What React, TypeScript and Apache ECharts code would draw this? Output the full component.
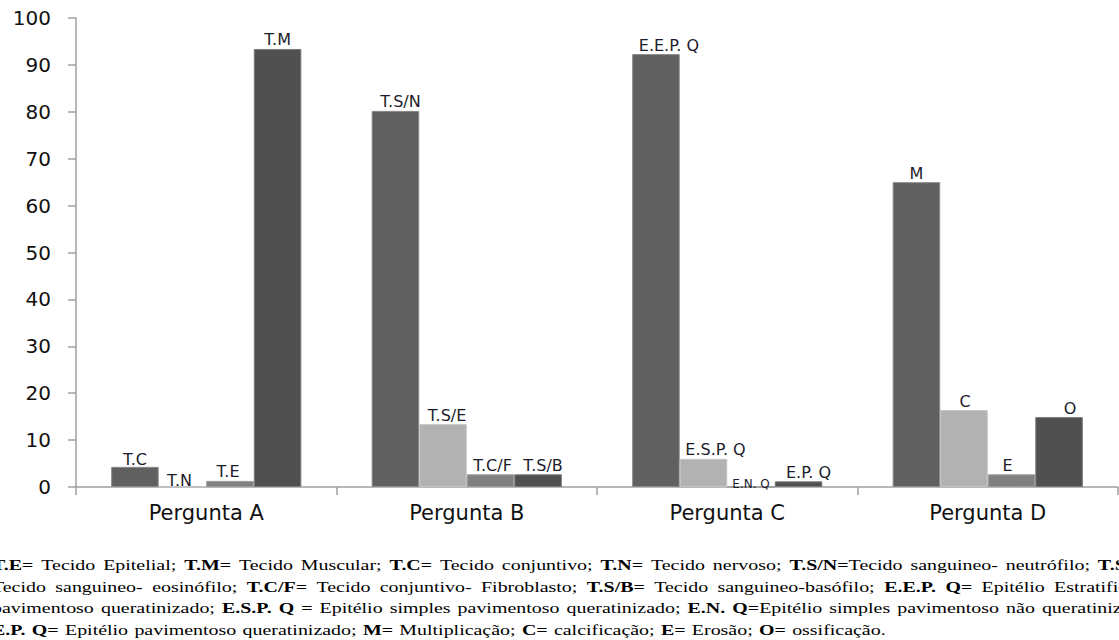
import React, { useEffect, useRef } from "react";
import * as echarts from "echarts";

const categories = ["Pergunta A", "Pergunta B", "Pergunta C", "Pergunta D"];
const yTicks = { min: 0, max: 100, interval: 10 };

const values1 = [4.3, 80.2, 92.3, 65.0];
const values2 = [0, 13.4, 6.0, 16.4];
const values3 = [1.3, 2.7, 0, 2.7];
const values4 = [93.4, 2.7, 1.2, 14.9];

const names1 = ["T.C", "T.S/N", "E.E.P. Q", "M"];
const names2 = ["T.N", "T.S/E", "E.S.P. Q", "C"];
const names3 = ["T.E", "T.C/F", "E.N. Q", "E"];
const names4 = ["T.M", "T.S/B", "E.P. Q", "O"];

// label nudges (style only)
const nudges1 = [[0, 2], [5, 0], [13, 0], [0, 0]];
const nudges2 = [[-3, 3], [4, 0], [12, 0], [1, 0]];
const nudges3 = [[-2, 0], [2, 0], [0, 4], [-4, 0]];
const nudges4 = [[0, 0], [5, 0], [10, 0], [11, 0]];

const footerLines = [
  "**T.E=** Tecido Epitelial; **T.M=** Tecido Muscular; **T.C=** Tecido conjuntivo; **T.N=** Tecido nervoso; **T.S/N=**Tecido sanguineo- neutrófilo; **T.S/E=**",
  "Tecido sanguineo- eosinófilo; **T.C/F=** Tecido conjuntivo- Fibroblasto; **T.S/B=** Tecido sanguineo-basófilo; **E.E.P. Q=** Epitélio Estratificado",
  "pavimentoso queratinizado; **E.S.P. Q =** Epitélio simples pavimentoso queratinizado; **E.N. Q=**Epitélio simples pavimentoso não queratinizado;",
  "**E.P. Q=** Epitélio pavimentoso queratinizado; **M=** Multiplicação; **C=** calcificação; **E=** Erosão; **O=** ossificação.",
];

const FOOT_FONT = "Liberation Serif";
const FOOT_SIZE = 15;
const FOOT_SCALE_X = 1.33;
const FOOT_LEFT = -8;
const FOOT_RIGHT = 1156;
const FOOT_Y = [565, 586.5, 608, 629.5];

type Seg = { t: string; b: boolean };

function parseLine(s: string): Seg[][] {
  const words: Seg[][] = [];
  let cur: Seg[] = [];
  const re = /\*\*(.+?)\*\*|[^*]+/g;
  let m: RegExpExecArray | null;
  while ((m = re.exec(s))) {
    const bold = m[1] !== undefined;
    const text = bold ? m[1] : m[0];
    const parts = text.split(" ");
    parts.forEach((p, i) => {
      if (i > 0 && cur.length) {
        words.push(cur);
        cur = [];
      }
      if (p) cur.push({ t: p, b: bold });
    });
  }
  if (cur.length) words.push(cur);
  return words;
}

function buildFooter(): any[] {
  const canvas = document.createElement("canvas");
  const ctx = canvas.getContext("2d")!;
  const meas = (t: string, b: boolean) => {
    ctx.font = `${b ? "bold " : ""}${FOOT_SIZE}px "${FOOT_FONT}"`;
    return ctx.measureText(t).width;
  };
  const localWidth = (FOOT_RIGHT - FOOT_LEFT) / FOOT_SCALE_X;
  const els: any[] = [];
  footerLines.forEach((line, li) => {
    const words = parseLine(line);
    const widths = words.map((w) => w.reduce((a, s) => a + meas(s.t, s.b), 0));
    const total = widths.reduce((a, b) => a + b, 0);
    const justify = li < footerLines.length - 1;
    const gap = justify
      ? (localWidth - total) / (words.length - 1)
      : meas(" ", false) * 1.25;
    let x = 0;
    words.forEach((w, wi) => {
      let sx = x;
      w.forEach((s) => {
        els.push({
          type: "text",
          x: sx,
          y: FOOT_Y[li],
          silent: true,
          style: {
            text: s.t,
            fontFamily: FOOT_FONT,
            fontSize: FOOT_SIZE,
            fontWeight: s.b ? "bold" : "normal",
            fill: "#000",
            align: "left",
            verticalAlign: "middle",
          },
        });
        sx += meas(s.t, s.b);
      });
      x += widths[wi] + gap;
    });
  });
  return [
    {
      type: "group",
      x: FOOT_LEFT,
      y: 0,
      scaleX: FOOT_SCALE_X,
      silent: true,
      children: els,
    },
  ];
}

function makeSeries(
  values: number[],
  names: string[],
  nudges: number[][],
  color: string,
  border: string
) {
  return {
    type: "bar",
    barGap: "0%",
    barCategoryGap: "27%",
    itemStyle: { color, borderColor: border, borderWidth: 1 },
    data: values.map((v, i) => ({
      value: v,
      label: {
        offset: nudges[i],
        fontSize: names[i] === "E.N. Q" ? 12 : 16,
      },
    })),
    label: {
      show: true,
      position: "top",
      distance: 1,
      fontFamily: "DejaVu Sans",
      fontSize: 16,
      color: "#1c1c2a",
      formatter: (p: any) => names[p.dataIndex],
    },
  };
}

export default function App() {
  const ref = useRef<HTMLDivElement>(null);
  useEffect(() => {
    if (!ref.current) return;
    const chart = echarts.init(ref.current, null, { renderer: "svg" });
    chart.setOption({
      animation: false,
      backgroundColor: "#ffffff",
      grid: { left: 76, right: 1, top: 18, bottom: 153, containLabel: false },
      xAxis: {
        type: "category",
        data: categories,
        axisLine: { show: true, lineStyle: { color: "#a0a0a0", width: 1.5 } },
        axisTick: {
          show: true,
          length: 8,
          interval: 0,
          alignWithLabel: false,
          lineStyle: { color: "#a0a0a0", width: 1.5 },
        },
        axisLabel: {
          margin: 15,
          fontFamily: "DejaVu Sans",
          fontSize: 21,
          color: "#111",
          interval: 0,
        },
      },
      yAxis: {
        type: "value",
        min: yTicks.min,
        max: yTicks.max,
        interval: yTicks.interval,
        splitLine: { show: false },
        axisLine: { show: true, lineStyle: { color: "#a0a0a0", width: 1.5 } },
        axisTick: { show: true, length: 8, lineStyle: { color: "#a0a0a0", width: 1.5 } },
        axisLabel: {
          margin: 25,
          fontFamily: "DejaVu Sans",
          fontSize: 20,
          color: "#111",
        },
      },
      series: [
        makeSeries(values1, names1, nudges1, "#606060", "#8a8a8a"),
        makeSeries(values2, names2, nudges2, "#b2b2b2", "#c4c4c4"),
        makeSeries(values3, names3, nudges3, "#808080", "#9a9a9a"),
        makeSeries(values4, names4, nudges4, "#505050", "#7a7a7a"),
      ],
      graphic: buildFooter(),
    });
    return () => chart.dispose();
  }, []);
  return (
    <div
      ref={ref}
      style={{ position: "fixed", left: 0, top: 0, width: 1119, height: 640, background: "#fff" }}
    />
  );
}
